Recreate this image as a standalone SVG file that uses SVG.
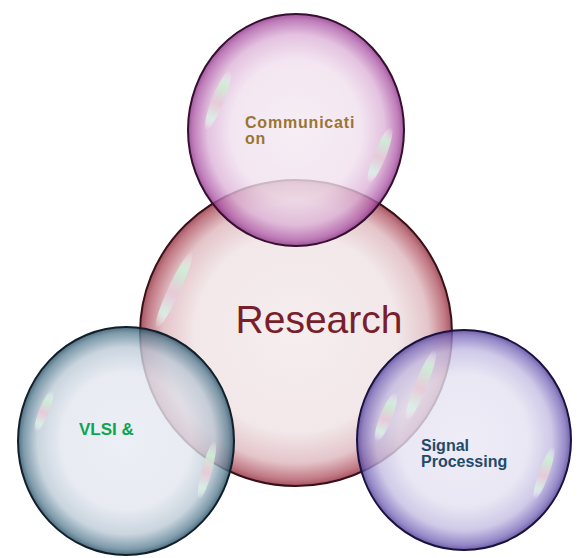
<svg xmlns="http://www.w3.org/2000/svg" width="579" height="558" viewBox="0 0 579 558">
<defs>
<radialGradient id="gRes" cx="50%" cy="50%" r="50%">
<stop offset="0%" stop-color="#F3E9EB"/>
<stop offset="65%" stop-color="#EFE2E4"/>
<stop offset="85%" stop-color="#DDB6BC"/>
<stop offset="96%" stop-color="#B25766"/>
<stop offset="100%" stop-color="#8A2A3A"/>
</radialGradient>
<radialGradient id="gCom" cx="50%" cy="50%" r="50%">
<stop offset="0%" stop-color="#F4EAF2"/>
<stop offset="60%" stop-color="#F0E0EE"/>
<stop offset="82%" stop-color="#DDB3D8"/>
<stop offset="95%" stop-color="#B05FAA"/>
<stop offset="100%" stop-color="#8A2F85"/>
</radialGradient>
<radialGradient id="gVlsi" cx="50%" cy="50%" r="50%">
<stop offset="0%" stop-color="#E8EBF3"/>
<stop offset="60%" stop-color="#E2E6EF"/>
<stop offset="82%" stop-color="#BCCAD6"/>
<stop offset="95%" stop-color="#5E8296"/>
<stop offset="100%" stop-color="#264A5E"/>
</radialGradient>
<radialGradient id="gSig" cx="50%" cy="50%" r="50%">
<stop offset="0%" stop-color="#EAE8F4"/>
<stop offset="60%" stop-color="#E4E1F1"/>
<stop offset="82%" stop-color="#C3BCE2"/>
<stop offset="95%" stop-color="#7C6CBA"/>
<stop offset="100%" stop-color="#4A3A90"/>
</radialGradient>
<linearGradient id="gStreak" x1="0" y1="0" x2="0" y2="1">
<stop offset="0%" stop-color="#FFFFFF" stop-opacity="0"/>
<stop offset="25%" stop-color="#CDEFD6" stop-opacity="0.9"/>
<stop offset="55%" stop-color="#E9C9D9" stop-opacity="0.9"/>
<stop offset="80%" stop-color="#D8F0E6" stop-opacity="0.9"/>
<stop offset="100%" stop-color="#FFFFFF" stop-opacity="0"/>
</linearGradient>
</defs>
<style>
.bub{stroke-width:2;fill-opacity:0.8}
.streak{fill:url(#gStreak)}
text{font-family:"Liberation Sans",Arial,sans-serif}
.lbl{font-weight:bold}
</style>
<g id="node-research">
<ellipse class="bub" cx="296" cy="333" rx="156" ry="153" fill="url(#gRes)" stroke="#3A1016"/>
<ellipse class="streak" cx="174" cy="290" rx="6" ry="42" transform="rotate(25 174 290)"/>
<text x="319" y="333" font-size="39" fill="#7A1E2B" text-anchor="middle">Research</text>
</g>
<g id="node-communication">
<ellipse class="bub" cx="296" cy="130" rx="108" ry="116" fill="url(#gCom)" stroke="#35102F"/>
<ellipse class="streak" cx="218" cy="100" rx="6" ry="32" transform="rotate(22 218 100)"/>
<ellipse class="streak" cx="380" cy="155" rx="6" ry="30" transform="rotate(22 380 155)"/>
<text class="lbl" x="245" y="128" font-size="16" letter-spacing="0.8" fill="#9A7433">Communicati</text>
<text class="lbl" x="245" y="144" font-size="16" letter-spacing="0.8" fill="#9A7433">on</text>
</g>
<g id="node-vlsi">
<ellipse class="bub" cx="126" cy="441" rx="108" ry="114" fill="url(#gVlsi)" stroke="#10212C"/>
<ellipse class="streak" cx="44" cy="411" rx="5" ry="22" transform="rotate(22 44 411)"/>
<ellipse class="streak" cx="207" cy="470" rx="5" ry="30" transform="rotate(15 207 470)"/>
<text class="lbl" x="79" y="435" font-size="17" fill="#0BA552">VLSI &amp;</text>
</g>
<g id="node-signal">
<ellipse class="bub" cx="464" cy="440" rx="107" ry="110" fill="url(#gSig)" stroke="#1B1240"/>
<ellipse class="streak" cx="386" cy="417" rx="6" ry="26" transform="rotate(22 386 417)"/>
<ellipse class="streak" cx="421" cy="385" rx="6" ry="38" transform="rotate(22 421 385)"/>
<ellipse class="streak" cx="544" cy="473" rx="5" ry="28" transform="rotate(20 544 473)"/>
<text class="lbl" x="421" y="451" font-size="16" fill="#1E4B6A">Signal</text>
<text class="lbl" x="421" y="467" font-size="16" fill="#1E4B6A">Processing</text>
</g>
<g id="connectors"></g>
</svg>
